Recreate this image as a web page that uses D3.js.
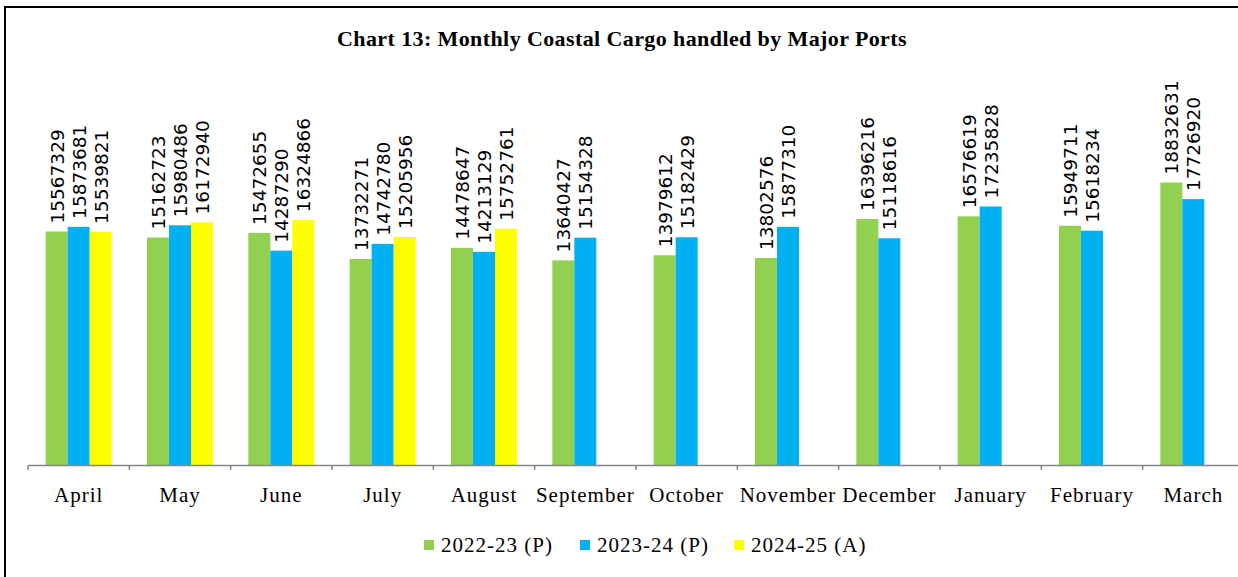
<!DOCTYPE html>
<html>
<head>
<meta charset="utf-8">
<script src="https://cdn.jsdelivr.net/npm/d3@7"></script>
<style>
  body { margin: 0; background: #fff; }
  svg { display: block; }
</style>
</head>
<body>
<div id="chart"></div>
<script>
// Data
const months = ["April", "May", "June", "July", "August", "September", "October",
  "November", "December", "January", "February", "March"];
const seriesNames = ["2022-23 (P)", "2023-24 (P)", "2024-25 (A)"];
const seriesColors = ["#92D050", "#00B0F0", "#FFFF00"];
const values2223 = [15567329, 15162723, 15472655, 13732271, 14478647, 13640427, 13979612,
  13802576, 16396216, 16576619, 15949711, 18832631];
const values2324 = [15873681, 15980486, 14287290, 14742780, 14213129, 15154328, 15182429,
  15877310, 15118616, 17235828, 15618234, 17726920];
const values2425 = [15539821, 16172940, 16324866, 15205956, 15752761, null, null,
  null, null, null, null, null];

const W = 1238, H = 577;
const margin = { left: 28, right: -6, base: 465 };
const serif = "'Liberation Serif', 'Times New Roman', serif";

const svg = d3.select("#chart").append("svg")
  .attr("width", W)
  .attr("height", H);

// chart frame (right and bottom edges fall outside the picture)
svg.append("rect")
  .attr("x", 5).attr("y", 7)
  .attr("width", W + 10).attr("height", H + 10)
  .attr("fill", "none")
  .attr("stroke", "#000")
  .attr("stroke-width", 2);

// title
svg.append("text")
  .attr("x", 622).attr("y", 46)
  .attr("text-anchor", "middle")
  .style("font-family", serif)
  .style("font-weight", "bold")
  .style("font-size", "22px")
  .style("letter-spacing", "0.4px")
  .text("Chart 13: Monthly Coastal Cargo handled by Major Ports");

// scales
const x0 = d3.scaleBand()
  .domain(months)
  .range([margin.left, W - margin.right]);

const x1 = d3.scaleBand()
  .domain(seriesNames)
  .range([0, 66]);

const y = d3.scaleLinear()
  .domain([0, 20000000])
  .range([margin.base, margin.base - 300]);

// build rows
const rows = months.map((m, i) => ({
  month: m,
  vals: [values2223[i], values2324[i], values2425[i]]
}));

const groups = svg.selectAll(".grp")
  .data(rows)
  .enter().append("g")
  .attr("class", "grp")
  .attr("transform", d => `translate(${x0(d.month) + (x0.bandwidth() - 66) / 2},0)`);

const cells = groups.selectAll(".cell")
  .data(d => d.vals.map((v, j) => ({ name: seriesNames[j], v: v, c: seriesColors[j] }))
    .filter(e => e.v != null))
  .enter().append("g")
  .attr("class", "cell");

cells.append("rect")
  .attr("x", d => x1(d.name))
  .attr("y", d => y(d.v))
  .attr("width", x1.bandwidth())
  .attr("height", d => y(0) - y(d.v))
  .attr("fill", d => d.c);

cells.append("text")
  .attr("transform", d => `translate(${x1(d.name) + x1.bandwidth() / 2 + 0.5},${y(d.v) - 8}) rotate(-90)`)
  .attr("dominant-baseline", "central")
  .style("font-family", "'DejaVu Sans', sans-serif")
  .style("font-size", "18.5px")
  .style("fill", "#000")
  .text(d => d.v);

// x axis
const axis = svg.append("g")
  .attr("transform", `translate(0,${margin.base})`)
  .call(d3.axisBottom(x0).tickSize(0).tickPadding(22));
axis.select(".domain").attr("stroke", "#868686").attr("stroke-width", 1.5);
axis.selectAll(".tick text")
  .style("font-family", serif)
  .style("font-size", "21px")
  .style("letter-spacing", "1px")
  .style("fill", "#000");

// tick marks at category boundaries
svg.selectAll(".bnd")
  .data(months.concat(["end"]))
  .enter().append("line")
  .attr("x1", (d, i) => margin.left + i * x0.step())
  .attr("x2", (d, i) => margin.left + i * x0.step())
  .attr("y1", margin.base)
  .attr("y2", margin.base + 5)
  .attr("stroke", "#868686")
  .attr("stroke-width", 1.5);

// legend
const legendX = [424, 580, 734];
const legend = svg.selectAll(".leg")
  .data(seriesNames)
  .enter().append("g")
  .attr("transform", (d, i) => `translate(${legendX[i]},545)`);
legend.append("rect")
  .attr("x", 0).attr("y", -5)
  .attr("width", 10).attr("height", 10)
  .attr("fill", (d, i) => seriesColors[i]);
legend.append("text")
  .attr("x", 17).attr("y", 0)
  .attr("dominant-baseline", "central")
  .style("font-family", serif)
  .style("font-size", "21px")
  .style("letter-spacing", "1px")
  .text(d => d);
</script>
</body>
</html>
